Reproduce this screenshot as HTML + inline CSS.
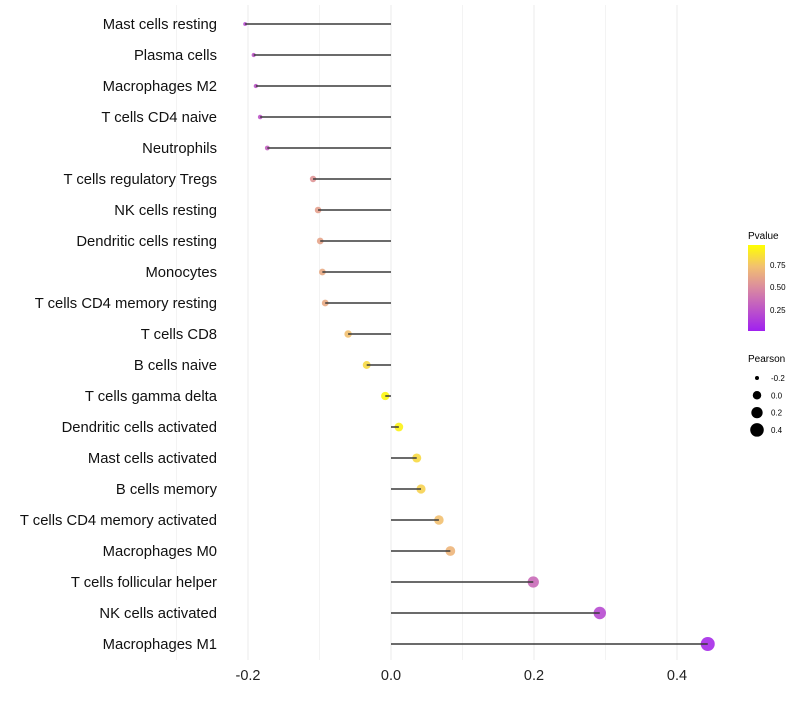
<!DOCTYPE html>
<html><head><meta charset="utf-8"><style>
body{margin:0;background:#fff;font-family:"Liberation Sans",sans-serif}
svg text{font-family:"Liberation Sans",sans-serif}
</style></head><body>
<svg id="chart" width="800" height="700" xmlns="http://www.w3.org/2000/svg">
<defs><linearGradient id="pg" x1="0" y1="1" x2="0" y2="0">
<stop offset="0" stop-color="#a020f0"/><stop offset="0.5" stop-color="#da8aa0"/><stop offset="0.75" stop-color="#f2c070"/><stop offset="1" stop-color="#ffff00"/></linearGradient></defs>
<g id="grid"></g><g id="marks"></g><g id="labels"></g><g id="xaxis"></g>
<g>
<text x="748" y="239" font-size="10">Pvalue</text>
<rect x="748" y="245" width="17" height="86" fill="url(#pg)"/>
<text x="770" y="268" font-size="8">0.75</text>
<text x="770" y="290" font-size="8">0.50</text>
<text x="770" y="313" font-size="8">0.25</text>
</g>
<g id="sizeleg">
<text x="748" y="362" font-size="10">Pearson</text>
</g>
</svg>
<script>
const cells=["Mast cells resting","Plasma cells","Macrophages M2","T cells CD4 naive","Neutrophils","T cells regulatory  Tregs ","NK cells resting","Dendritic cells resting","Monocytes","T cells CD4 memory resting","T cells CD8","B cells naive","T cells gamma delta","Dendritic cells activated","Mast cells activated","B cells memory","T cells CD4 memory activated","Macrophages M0","T cells follicular helper","NK cells activated","Macrophages M1"];
const pearson=[-0.204,-0.192,-0.189,-0.183,-0.173,-0.109,-0.102,-0.099,-0.096,-0.092,-0.060,-0.034,-0.008,0.011,0.036,0.042,0.067,0.083,0.199,0.292,0.443];
const pvalue=[0.2,0.25,0.25,0.25,0.3,0.55,0.6,0.62,0.65,0.65,0.75,0.85,0.97,0.95,0.85,0.82,0.75,0.7,0.35,0.2,0.05];
const xTicks=[-0.2,0.0,0.2,0.4];
const xTickLabels=["-0.2","0.0","0.2","0.4"];
const legendSizes=[-0.2,0.0,0.2,0.4];
const legendLabels=["-0.2","0.0","0.2","0.4"];
const NS="http://www.w3.org/2000/svg";
const X=v=>391+v*715;
const Y=i=>24+i*31;
const R=v=>Math.sqrt(Math.max(3.5,18+70*v));
function lerp(a,b,t){return a.map((x,i)=>Math.round(x+(b[i]-x)*t));}
function col(p){const st=[[0,[160,32,240]],[0.5,[218,138,160]],[0.75,[242,192,112]],[1,[255,255,0]]];
for(let i=1;i<st.length;i++){if(p<=st[i][0]){const t=(p-st[i-1][0])/(st[i][0]-st[i-1][0]);return "rgb("+lerp(st[i-1][1],st[i][1],t).join(",")+")";}}return "rgb(255,255,0)";}
function mk(tag,attrs,parent){const e=document.createElementNS(NS,tag);for(const k in attrs)e.setAttribute(k,attrs[k]);parent.appendChild(e);return e;}
const grid=document.getElementById('grid'),marks=document.getElementById('marks'),labels=document.getElementById('labels'),xa=document.getElementById('xaxis');
[-0.3,-0.1,0.1,0.3].forEach(v=>{const l=mk('line',{x1:X(v),x2:X(v),y1:5,y2:660,stroke:'#f3f3f3','stroke-width':1},grid);

});
xTicks.forEach((v,i)=>{const l=mk('line',{x1:X(v),x2:X(v),y1:5,y2:660,stroke:'#ebebeb','stroke-width':1},grid);


const t=mk('text',{x:X(v),y:680,'font-size':14.5,'text-anchor':'middle',fill:'#222'},xa);t.textContent=xTickLabels[i];

});
cells.forEach((c,i)=>{
const t=mk('text',{x:217,y:Y(i)+5,'font-size':14.8,'text-anchor':'end',fill:'#111','xml:space':'preserve'},labels);t.textContent=c;


const p=mk('circle',{cx:X(pearson[i]),cy:Y(i),r:R(pearson[i]),fill:col(pvalue[i]),'fill-opacity':0.9},marks);


const l=mk('line',{x1:X(0),x2:X(pearson[i]),y1:Y(i),y2:Y(i),stroke:'#3a3a3a','stroke-width':1.5},marks);

});
const sl=document.getElementById('sizeleg');
legendSizes.forEach((v,i)=>{const y=378+i*17.3;
const c=mk('circle',{cx:757,cy:y,r:R(v),fill:'#000'},sl);


const t=mk('text',{x:771,y:y+3,'font-size':8},sl);t.textContent=legendLabels[i];

});
</script>
</body></html>
